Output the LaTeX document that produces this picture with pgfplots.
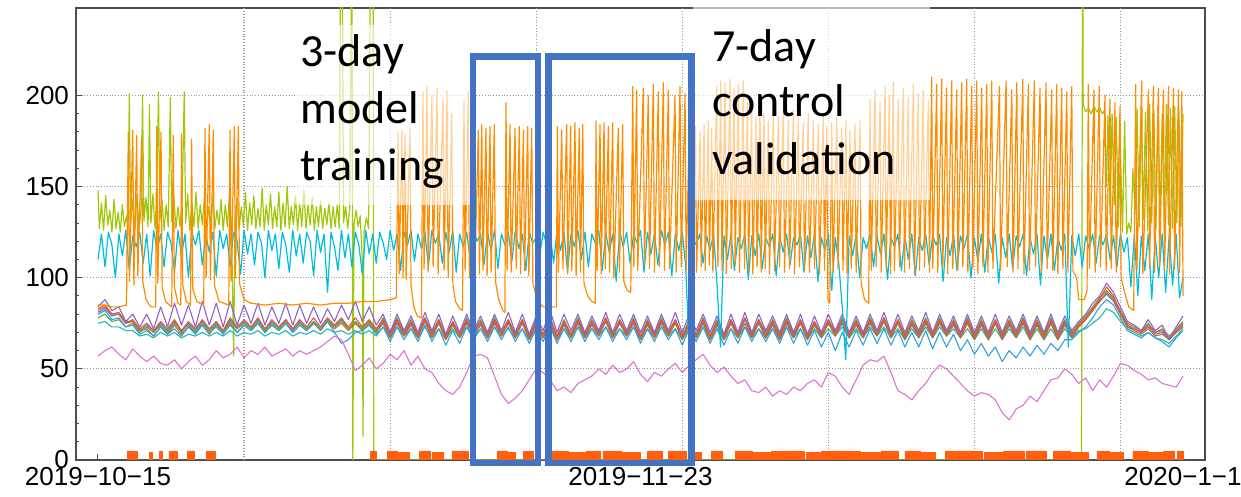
\documentclass[border=0pt]{standalone}
\usepackage{pgfplots}
\pgfplotsset{compat=1.18}
\usepackage{pgfplotstable}
\usepackage{fontspec}
\setmainfont{Liberation Sans}
\newfontfamily\calfont{Carlito}
\definecolor{cgreen}{RGB}{160,200,10}
\definecolor{ccyan}{RGB}{0,188,222}
\definecolor{corange}{RGB}{255,140,0}
\definecolor{cpink}{RGB}{224,112,214}
\definecolor{cpurple}{RGB}{144,96,208}
\definecolor{clblue}{RGB}{48,160,224}
\definecolor{cgreen2}{RGB}{96,170,48}
\definecolor{cred}{RGB}{232,80,58}
\definecolor{cbrown}{RGB}{200,106,32}
\definecolor{cteal}{RGB}{32,184,176}
\definecolor{cblue}{RGB}{90,128,208}
\definecolor{cbottom}{RGB}{255,96,16}
\definecolor{boxblue}{RGB}{68,114,196}

\pgfplotstableread{
x pu lb gr rd br tl bl pk
0 84 80 78 82 83 75 81 57
0.5 88 82 80 84 85 76 83 60
1 82 77 76 80 80 73 79 62
1.5 84 78 77 80 81 73 80 58
2 76 73 73 75 76 71 75 55
2.5 80 74 75 77 76 71 76 61
3 73 69 70 72 71 68 71 57
3.5 80 71 73 75 72 69 74 54
4 72 68 70 71 68 67 70 57
4.5 84 73 74 76 73 70 75 53
5 73 69 70 72 69 68 71 52
5.5 86 72 75 77 74 70 76 55
6 74 68 71 71 69 67 70 50
6.5 85 73 74 76 73 69 75 54
7 73 69 70 72 70 68 71 57
7.5 87 74 75 77 74 70 76 52
8 74 70 71 72 69 68 71 55
8.5 86 73 74 76 74 70 75 60
9 73 69 70 71 70 68 70 56
9.5 87 74 76 78 75 71 77 58
10 74 70 72 73 70 68 72 62
10.5 85 74 75 77 74 70 76 56
11 75 71 72 73 71 69 72 60
11.5 86 75 76 78 75 71 77 58
12 74 70 71 72 70 68 71 62
12.5 84 74 75 77 74 70 76 57
13 75 71 72 73 71 69 72 59
13.5 86 75 76 77 75 71 77 61
14 74 70 72 72 70 68 71 57
14.5 85 74 75 77 74 70 76 60
15 75 71 72 73 71 69 72 58
15.5 84 75 76 78 75 71 76 60
16 75 72 72 73 71 69 72 62
16.5 83 76 77 78 76 72 77 65
17 76 70 73 74 72 70 73 68
17.5 85 64 76 78 75 71 77 66
18 77 66 72 73 71 69 72 58
18.5 87 70 76 78 75 71 76 49
19 76 71 72 73 71 69 72 52
19.5 84 74 76 77 75 71 76 56
20 74 69 71 72 70 68 71 50
20.5 80 73 78 77 75 73 76 53
21 70 65 70 69 67 67 68 58
21.5 80 73 78 77 75 73 76 55
22 71 66 70 70 68 68 69 60
22.5 79 72 77 76 74 72 75 52
23 70 65 69 69 67 67 68 57
23.5 81 74 78 78 76 73 77 50
24 71 65 70 69 67 67 68 48
24.5 80 72 77 77 75 72 76 42
25 69 63 68 68 66 66 67 38
25.5 79 71 76 76 74 72 75 36
26 70 64 69 69 67 67 68 40
26.5 80 73 78 77 75 73 76 48
27 71 66 70 70 68 68 69 57
27.5 79 72 77 76 74 72 75 58
28 70 65 69 69 67 67 68 56
28.5 80 73 78 77 75 73 76 46
29 71 66 70 70 68 68 69 36
29.5 81 73 77 77 75 72 76 31
30 70 65 69 69 67 67 68 34
30.5 80 72 77 77 75 72 76 38
31 69 64 68 68 66 66 67 44
31.5 79 72 77 76 74 72 75 50
32 71 65 69 69 67 67 68 48
32.5 82 73 78 78 75 73 77 44
33 70 64 68 68 66 66 67 38
33.5 80 72 77 76 74 72 75 40
34 71 65 69 69 67 67 68 37
34.5 80 73 78 77 75 73 76 42
35 70 65 69 69 67 67 68 44
35.5 79 72 77 76 74 72 75 46
36 71 66 70 70 68 68 69 50
36.5 81 73 78 78 76 73 77 47
37 70 65 69 69 67 67 68 52
37.5 80 72 77 77 75 72 76 48
38 71 66 70 70 68 68 69 50
38.5 80 73 78 77 75 73 76 54
39 70 64 68 68 66 66 67 47
39.5 79 72 77 76 74 72 75 43
40 70 65 69 69 67 67 68 48
40.5 80 73 78 77 75 73 76 46
41 71 66 70 70 68 68 69 50
41.5 81 72 77 77 75 72 76 53
42 70 63 68 68 66 66 67 48
42.5 80 72 77 76 74 72 75 52
43 71 65 69 69 67 67 68 55
43.5 80 73 78 77 75 73 76 58
44 70 64 68 68 66 66 67 52
44.5 79 72 77 76 74 72 75 48
45 69 63 68 68 66 66 67 51
45.5 80 72 77 77 75 72 76 46
46 70 64 69 69 67 67 68 42
46.5 81 73 78 78 75 73 77 44
47 70 65 69 69 67 67 68 38
47.5 80 72 77 77 75 72 76 37
48 71 65 70 69 67 67 68 40
48.5 79 72 77 76 74 72 75 35
49 70 64 69 68 66 66 67 38
49.5 80 73 78 77 75 73 76 36
50 70 64 69 69 67 67 68 40
50.5 80 72 77 77 75 72 76 38
51 69 63 68 68 66 66 67 42
51.5 79 71 76 76 74 72 75 44
52 70 62 69 69 67 67 68 40
52.5 80 70 77 77 75 72 76 48
53 71 60 70 70 68 68 69 46
53.5 80 70 78 77 75 73 76 40
54 70 62 69 69 67 67 68 36
54.5 79 71 77 76 74 72 75 44
55 70 63 69 69 67 67 68 52
55.5 80 72 78 77 75 73 76 55
56 71 64 70 70 68 68 69 54
56.5 81 72 78 78 76 73 77 57
57 70 63 69 69 67 67 68 48
57.5 80 71 77 77 75 72 76 38
58 70 62 69 68 66 66 67 36
58.5 79 70 77 76 74 72 75 33
59 71 62 70 69 67 67 68 38
59.5 81 71 78 77 75 73 76 42
60 70 61 69 69 67 67 68 48
60.5 80 70 78 77 75 73 76 52
61 71 62 70 70 68 68 69 50
61.5 79 69 77 76 74 72 75 46
62 70 60 69 69 67 67 68 42
62.5 80 66 78 77 75 72 76 38
63 70 58 69 68 66 66 67 35
63.5 79 64 77 76 74 72 75 37
64 70 57 69 68 66 66 67 36
64.5 80 62 77 77 75 72 76 33
65 70 54 69 68 66 66 67 26
65.5 79 60 77 76 74 72 75 22
66 71 56 70 69 67 67 68 28
66.5 80 62 78 77 75 73 76 30
67 70 57 69 68 66 66 67 35
67.5 79 63 77 76 74 72 75 32
68 70 58 69 68 66 66 67 38
68.5 80 64 78 77 75 72 76 44
69 70 60 69 68 66 66 67 45
69.5 79 66 77 76 74 72 75 50
70 71 66 70 69 67 67 68 47
70.5 76 70 75 74 73 71 73 42
71 80 73 79 78 77 72 77 45
71.5 86 78 84 83 82 75 82 38
72 90 84 89 88 87 78 87 44
72.5 97 88 93 95 92 83 91 40
73 92 85 89 90 88 81 87 46
73.5 84 78 82 81 80 76 80 53
74 76 71 75 74 73 72 73 52
74.5 74 69 73 72 71 70 72 49
75 71 67 71 70 69 68 70 47
75.5 77 70 75 74 72 70 73 44
76 71 67 70 70 68 67 69 45
76.5 74 65 72 71 69 66 70 42
77 66 62 68 67 66 64 66 41
77.5 73 67 72 71 70 68 70 40
78 79 71 76 75 73 72 74 46
}\temps

\begin{document}
\begin{tikzpicture}[x=1pt,y=1pt]
\begin{axis}[
  at={(49pt,18.5pt)}, anchor=origin,
  scale only axis, width=564.5pt, height=226pt,
  xmin=-1.58, xmax=79.58, ymin=0, ymax=248,
  axis line style={black!70, line width=0.6pt},
  tick align=inside, tick pos=left,
  xtick={0,39,78},
  xticklabels={2019−10−15,2019−11−23,2020−1−1},
  ytick={0,50,100,150,200}, minor y tick num=4,
  major tick length=3pt, minor tick length=1.6pt,
  tick style={black!70, line width=0.5pt},
  ymajorgrids, grid style={densely dotted, black!40, line width=0.6pt},
  extra x ticks={10.5,21,31.5,42,52.5,63,73.5},
  extra x tick labels={},
  extra x tick style={grid=major, major tick length=0pt},
  ticklabel style={font=\fontsize{13}{15}\selectfont},
  /pgf/number format/assume math mode=true,
  every axis plot/.append style={line join=round, line width=0.55pt},
]
% green series
\addplot[cgreen, line width=0.6pt] coordinates {
(0,148)(0.1,127)(0.25,141)(0.4,126)(0.55,145)(0.7,129)(0.85,137)(1.0,125)(1.15,143)(1.3,127)(1.45,136)(1.6,125)(1.75,140)(1.9,128)(2.05,134)(2.15,127)(2.25,201)(2.35,130)(2.5,143)(2.65,127)(2.8,146)(2.95,126)(3.1,138)(3.2,200)(3.3,131)(3.45,144)(3.6,128)(3.7,195)(3.8,130)(3.95,146)(4.1,127)(4.2,140)(4.35,202)(4.45,131)(4.6,143)(4.75,126)(4.9,140)(5.05,128)(5.2,199)(5.3,131)(5.45,145)(5.6,127)(5.75,139)(5.9,128)(6.05,142)(6.2,202)(6.3,130)(6.45,146)(6.6,126)(6.75,141)(6.9,128)(7.05,147)(7.2,127)(7.35,140)(7.5,129)(7.65,144)(7.8,126)(7.95,139)(8.1,128)(8.25,145)(8.4,127)(8.55,137)(8.7,129)(8.85,143)(9.0,126)(9.15,140)(9.3,128)(9.45,146)(9.6,127)(9.75,57)(9.85,130)(10.0,144)(10.15,127)(10.3,139)(10.45,128)(10.6,147)(10.75,126)(10.9,141)(11.05,129)(11.2,145)(11.35,127)(11.5,138)(11.65,128)(11.8,149)(11.95,126)(12.1,140)(12.25,129)(12.4,146)(12.55,127)(12.7,139)(12.85,128)(13.0,147)(13.15,126)(13.3,141)(13.45,128)(13.6,150)(13.75,127)(13.9,139)(14.05,129)(14.2,145)(14.35,126)(14.5,141)(14.65,128)(14.8,148)(14.95,127)(15.1,140)(15.25,129)(15.4,144)(15.55,126)(15.7,139)(15.85,128)(16.0,142)(16.15,127)(16.3,138)(16.45,129)(16.6,141)(16.75,127)(16.9,139)(17.05,128)(17.2,140)(17.35,127)(17.45,300)(17.55,300)(17.65,130)(17.8,139)(17.95,127)(18.1,138)(18.25,300)(18.32,0)(18.4,129)(18.55,137)(18.7,128)(18.85,134)(19.0,110)(19.05,13)(19.12,125)(19.3,133)(19.45,127)(19.6,300)(19.78,300)(19.82,0)(70.7,0)(70.78,300)(70.82,195)(71.0,191)(71.2,193)(71.4,190)(71.6,194)(71.8,191)(72.0,193)(72.2,190)(72.35,192)(72.5,150)(72.6,189)(72.75,135)(72.9,190)(73.05,140)(73.2,188)(73.35,128)(73.5,170)(73.65,125)(73.8,186)(73.95,124)(74.1,130)(74.25,125)(74.4,160)(74.55,135)(74.7,192)(74.85,128)(75.0,194)(75.15,132)(75.3,191)(75.45,126)(75.6,195)(75.75,130)(75.9,192)(76.05,127)(76.2,194)(76.35,131)(76.5,190)(76.65,126)(76.8,195)(76.95,129)(77.1,193)(77.25,127)(77.4,194)(77.55,130)(77.7,192)(77.85,128)(78.0,190)};
% temperature lines
\addplot[cteal] table[x=x,y=tl]{\temps};
\addplot[cblue] table[x=x,y=bl]{\temps};
\addplot[cbrown] table[x=x,y=br]{\temps};
\addplot[cgreen2] table[x=x,y=gr]{\temps};
\addplot[cred] table[x=x,y=rd]{\temps};
\addplot[clblue] table[x=x,y=lb]{\temps};
\addplot[cpurple] table[x=x,y=pu]{\temps};
\addplot[cpink] table[x=x,y=pk]{\temps};
% cyan
\addplot[ccyan, line width=0.6pt] coordinates {
(0,110)(0.25,124)(0.5,106)(0.75,125)(1,118)(1.25,100)(1.5,124)(1.75,112)(2,126)(2.25,104)(2.5,123)(2.75,117)(3,125)(3.25,108)(3.5,124)(3.75,101)(4,126)(4.25,115)(4.5,124)(4.75,106)(5,125)(5.25,119)(5.5,103)(5.75,126)(6,112)(6.25,124)(6.5,100)(6.75,125)(7,118)(7.25,126)(7.5,107)(7.75,124)(8,114)(8.25,125)(8.5,101)(8.75,126)(9,116)(9.25,124)(9.5,106)(9.75,125)(10,120)(10.25,102)(10.5,126)(10.75,113)(11,124)(11.25,107)(11.5,125)(11.75,119)(12,100)(12.25,126)(12.5,115)(12.75,124)(13,105)(13.25,125)(13.5,118)(13.75,103)(14,126)(14.25,112)(14.5,124)(14.75,108)(15,125)(15.25,120)(15.5,101)(15.75,126)(16,114)(16.25,124)(16.5,92)(16.75,125)(17,117)(17.25,104)(17.5,126)(17.75,111)(18,124)(18.25,106)(18.5,125)(18.75,118)(19,102)(19.25,126)(19.5,113)(19.75,124)
(20,108)(20.25,125)(20.5,119)(20.75,110)(21,126)(21.25,115)(21.5,124)(21.75,104)(22,125)(22.25,118)(22.5,126)(22.75,109)(23,124)(23.25,116)(23.5,125)(23.75,106)(24,126)(24.25,119)(24.5,124)(24.75,108)(25,125)(25.25,114)(25.5,126)(25.75,103)(26,124)(26.25,117)(26.5,125)(26.75,110)(27,126)(27.25,120)(27.5,124)(27.75,107)(28,125)(28.25,115)(28.5,126)(28.75,105)(29,124)(29.25,118)(29.5,125)(29.75,109)(30,126)(30.25,116)(30.5,124)(30.75,104)(31,125)(31.25,119)(31.5,122)(31.75,112)(32,125)(32.25,118)(32.5,124)(32.75,108)(33,126)(33.25,115)(33.5,125)(33.75,103)(34,124)(34.25,117)(34.5,126)(34.75,110)(35,125)(35.25,106)(35.5,124)(35.75,119)(36,126)(36.25,104)(36.5,125)(36.75,114)(37,124)(37.25,98)(37.5,126)(37.75,117)(38,125)(38.25,108)(38.5,124)(38.75,119)(39,126)(39.25,103)(39.5,125)(39.75,113)(40,124)(40.25,107)(40.5,126)(40.75,118)(41,125)(41.25,101)(41.5,124)(41.75,115)(42,125)(42.25,106)(42.5,60)(42.75,122)
(43,118)(43.25,124)(43.5,108)(43.75,123)(44,115)(44.25,124)(44.5,96)(44.75,62)(45,123)(45.25,110)(45.5,124)(45.75,104)(46,122)(46.25,116)(46.5,124)(46.75,99)(47,123)(47.25,112)(47.5,124)(47.75,105)(48,122)(48.25,117)(48.5,124)(48.75,101)(49,123)(49.25,114)(49.5,124)(49.75,107)(50,122)(50.25,118)(50.5,124)(50.75,103)(51,123)(51.25,111)(51.5,124)(51.75,98)(52,122)(52.25,115)(52.5,124)(52.75,93)(53,122)(53.25,108)(53.5,84)(53.75,55)(54,123)(54.25,112)(54.5,124)(54.75,100)(55,122)(55.25,116)(55.5,124)(55.75,106)(56,123)(56.25,113)(56.5,124)(56.75,99)(57,122)(57.25,117)(57.5,124)(57.75,104)(58,123)(58.25,110)(58.5,124)(58.75,101)(59,122)(59.25,115)(59.5,124)(59.75,107)(60,123)(60.25,118)(60.5,124)(60.75,98)(61,122)(61.25,112)(61.5,124)(61.75,104)(62,123)(62.25,116)(62.5,124)(62.75,100)(63,122)(63.25,109)(63.5,124)(63.75,103)(64,123)(64.25,114)(64.5,124)(64.75,97)(65,122)(65.25,111)(65.5,124)(65.75,105)(66,123)(66.25,117)(66.5,124)(66.75,101)(67,122)(67.25,113)(67.5,124)(67.75,96)(68,123)(68.25,110)(68.5,124)(68.75,104)(69,122)(69.25,115)(69.5,124)(69.75,62)(70,123)
(70.25,112)(70.5,124)(70.75,106)(71,123)(71.25,116)(71.5,124)(71.75,108)(72,123)(72.25,118)(72.5,124)(72.75,110)(73,123)(73.25,106)(73.5,124)(73.75,114)(74,122)(74.25,95)(74.5,124)(74.75,90)(75,123)(75.25,104)(75.5,124)(75.75,88)(76,123)(76.25,100)(76.5,124)(76.75,92)(77,123)(77.25,96)(77.5,124)(77.75,89)(78,100)};
% orange spiky series
\addplot[corange, line width=0.6pt] coordinates {
(0,85)(0.5,85)(1.0,84)(1.5,84)(2.05,85)
(2.18,180)(2.26,98)(2.50,181)(2.58,96)(2.78,178)(2.86,101)(3.14,177)(3.22,98)(3.45,88)(3.8,84)(4.15,84)
(4.22,183)(4.30,97)(4.53,180)(4.61,95)(4.85,87)(5.3,84)
(5.41,178)(5.49,95)(5.75,86)(5.95,85)
(6.01,179)(6.09,96)(6.35,87)(6.65,85)
(6.73,176)(6.81,94)(7.1,87)(7.6,85)
(7.69,182)(7.77,100)(8.00,184)(8.08,99)(8.29,181)(8.37,96)(8.7,87)(9.4,85)
(9.49,181)(9.57,98)(9.80,183)(9.88,100)(10.09,183)(10.17,97)(10.5,88)(11.0,86)
(12,85)(13,86)(14,85)(15,86)(16,85)(17,86)(18,86)(19,87)(20,87)(21,88)(21.45,89)
(21.57,180)(21.65,102)(21.85,181)(21.93,100)(22.07,179)(22.15,99)(22.43,182)(22.5,96)(22.7,84)(22.95,79)(23.25,78)
(23.36,202)(23.44,105)(23.65,205)(23.73,103)(24.01,200)(24.09,106)(24.37,204)(24.45,102)(24.80,198)(24.88,104)(25.09,203)(25.17,100)(25.43,190)(25.51,96)(25.7,87)(26.0,83)(26.2,82)
(26.31,197)(26.39,104)(26.62,202)(26.70,100)(27.0,183)(27.08,101)
(27.34,181)(27.42,102)(27.59,184)(27.67,104)(27.89,182)(27.97,101)(28.18,183)(28.26,103)(28.49,184)(28.57,98)(28.8,88)(29.1,82)(29.25,81)
(29.33,196)(29.41,104)(29.62,184)(29.70,103)(29.98,182)(30.06,105)(30.29,183)(30.37,102)(30.58,181)(30.66,104)(30.89,183)(30.97,101)(31.18,182)(31.26,97)(31.6,87)(32.0,84)(32.5,84)(32.95,84)
(33.02,183)(33.10,103)(33.34,181)(33.42,105)(33.69,184)(33.77,102)(33.98,183)(34.06,104)(34.29,185)(34.37,101)(34.60,182)(34.68,103)(34.85,184)(34.93,97)(35.2,90)(35.5,87)(35.75,86)
(35.80,186)(35.88,104)(36.09,184)(36.17,102)(36.38,185)(36.46,105)(36.69,183)(36.77,103)(37.00,185)(37.08,100)(37.40,182)(37.48,103)(37.72,184)(37.80,98)(38.05,93)(38.3,92)
(38.44,205)(38.52,106)(38.72,203)(38.80,104)(39.20,204)(39.28,107)(39.56,200)(39.64,105)(39.92,206)(40.00,103)(40.28,202)(40.36,106)(40.64,207)(40.72,104)(41.00,203)(41.08,105)(41.48,200)(41.56,103)(41.84,205)(41.92,106)(42.20,201)(42.28,104)(42.55,200)(42.63,101)(42.95,183)(43.03,103)
(43.28,180)(43.36,106)(43.57,184)(43.65,104)(43.87,186)(43.95,107)(44.12,182)(44.20,103)(44.48,205)(44.56,106)(44.77,208)(44.85,104)(45.08,207)(45.16,102)(45.44,209)(45.52,105)(45.72,204)(45.80,107)(46.03,206)(46.11,103)(46.39,208)(46.47,105)(46.68,196)(46.76,104)(46.99,192)(47.07,102)(47.30,188)(47.38,106)(47.59,195)(47.67,103)(47.88,190)(47.96,105)(48.19,186)(48.27,102)(48.55,193)(48.63,104)(48.91,189)(48.99,106)(49.27,195)(49.35,103)(49.63,187)(49.71,105)(49.99,192)(50.07,102)(50.34,188)(50.42,106)(50.70,185)(50.78,104)(51.06,190)(51.14,103)(51.42,186)(51.50,105)(51.78,184)(51.86,102)(52.14,189)(52.22,104)(52.39,183)(52.47,88)(52.6,86)(52.75,185)(52.83,103)(53.11,188)(53.19,105)(53.47,182)(53.55,104)(53.77,186)(53.85,102)(54.06,181)(54.14,105)(54.42,184)(54.50,103)(54.78,186)(54.86,97)(55.1,88)(55.4,86)
(55.50,198)(55.58,104)(55.86,203)(55.94,106)(56.22,196)(56.30,103)(56.58,205)(56.66,105)(56.89,200)(56.97,102)(57.17,207)(57.25,104)(57.53,198)(57.61,106)(57.89,204)(57.97,103)(58.25,199)(58.33,105)(58.61,206)(58.69,102)(58.97,201)(59.05,104)(59.33,203)(59.41,106)(59.69,197)(59.77,103)
(59.93,210)(60.01,105)(60.29,206)(60.37,103)(60.65,209)(60.73,106)(61.00,204)(61.08,102)(61.37,208)(61.45,105)(61.73,203)(61.81,104)(62.09,207)(62.17,106)(62.45,209)(62.53,103)(62.81,205)(62.89,105)(63.17,208)(63.25,102)(63.53,204)(63.61,106)(63.89,206)(63.97,103)(64.25,208)(64.33,105)
(64.80,205)(64.88,104)(65.28,208)(65.36,106)(65.69,203)(65.77,103)(66.05,207)(66.13,105)(66.48,209)(66.56,102)(66.88,206)(66.96,104)(67.31,208)(67.39,106)(67.72,204)(67.80,103)(68.15,207)(68.23,105)(68.56,203)(68.64,104)(68.92,206)(69.00,102)(69.28,204)(69.36,105)(69.64,202)(69.72,103)(70.00,205)(70.08,104)(70.35,100)(70.5,88)(70.9,88)(71.1,93)
(71.19,206)(71.27,105)(71.60,203)(71.68,103)(71.98,205)(72.06,106)(72.39,200)(72.47,104)(72.75,198)(72.83,105)(73.11,196)(73.19,103)(73.47,194)(73.55,100)(73.8,92)(74.1,84)(74.45,82)
(74.60,206)(74.68,104)(75.03,208)(75.11,102)(75.51,203)(75.59,105)(75.87,205)(75.95,103)(76.23,204)(76.31,106)(76.59,203)(76.67,104)(76.95,205)(77.03,102)(77.31,204)(77.39,105)(77.67,203)(77.75,103)(77.91,202)(78.0,90)};
% bottom on/off series
\addplot[cbottom, fill=cbottom, line width=0.3pt] coordinates {
(2.1,0)(2.1,5)(2.8,5)(2.8,0)(3.7,0)(3.7,4)(3.9,4)(3.9,0)(4.4,0)(4.4,5)(4.6,5)(4.6,0)(5.1,0)(5.1,5)(5.7,5)(5.7,0)(6.4,0)(6.4,5)(6.9,5)(6.9,0)(7.8,0)(7.8,5)(8.4,5)(8.4,0)
(19.6,0)(19.6,5)(20.0,5)(20.0,0)(20.8,0)(20.8,5)(21.5,5)(21.5,0)(21.6,0)(21.6,4)(22.4,4)(22.4,0)(23.1,0)(23.1,5)(23.9,5)(23.9,0)(24.0,0)(24.0,4)(24.8,4)(24.8,0)(25.5,0)(25.5,5)(26.6,5)(26.6,0)
(28.7,0)(28.7,5)(29.4,5)(29.4,0)(29.5,0)(29.5,4)(30.0,4)(30.0,0)(30.6,0)(30.6,5)(31.3,5)(31.3,0)(32.6,0)(32.6,5)(33.8,5)(33.8,0)(33.9,0)(33.9,4)(35.0,4)(35.0,0)(35.1,0)(35.1,5)(36.1,5)(36.1,0)
(36.3,0)(36.3,5)(37.6,5)(37.6,0)(37.7,0)(37.7,4)(39.0,4)(39.0,0)(39.5,0)(39.5,5)(40.6,5)(40.6,0)(41.0,0)(41.0,5)(42.3,5)(42.3,0)(42.8,0)(42.8,4)(43.4,4)(43.4,0)(44.1,0)(44.1,5)(44.9,5)(44.9,0)
(45.8,0)(45.8,5)(47.0,5)(47.0,0)(47.1,0)(47.1,4)(48.3,4)(48.3,0)(48.4,0)(48.4,5)(49.6,5)(49.6,0)(49.7,0)(49.7,5)(50.8,5)(50.8,0)(50.9,0)(50.9,4)(51.9,4)(51.9,0)(52.0,0)(52.0,5)(53.4,5)(53.4,0)
(53.5,0)(53.5,5)(54.8,5)(54.8,0)(54.9,0)(54.9,4)(56.2,4)(56.2,0)(56.3,0)(56.3,5)(57.5,5)(57.5,0)(58.0,0)(58.0,5)(59.1,5)(59.1,0)(59.2,0)(59.2,4)(60.2,4)(60.2,0)(60.9,0)(60.9,5)(62.2,5)(62.2,0)
(62.3,0)(62.3,5)(63.6,5)(63.6,0)(63.7,0)(63.7,4)(65.0,4)(65.0,0)(65.1,0)(65.1,5)(66.6,5)(66.6,0)(66.7,0)(66.7,5)(68.2,5)(68.2,0)(68.7,0)(68.7,5)(69.9,5)(69.9,0)(70.0,0)(70.0,4)(71.2,4)(71.2,0)
(71.8,0)(71.8,5)(72.7,5)(72.7,0)(72.8,0)(72.8,4)(73.7,4)(73.7,0)(74.4,0)(74.4,5)(75.5,5)(75.5,0)(75.6,0)(75.6,4)(76.5,4)(76.5,0)(76.6,0)(76.6,5)(77.4,5)(77.4,0)(77.6,0)(77.6,5)(78.0,5)(78.0,0)};
\end{axis}
% semi-transparent white text boxes
\fill[white, fill opacity=0.6] (147.5,146) rectangle (235,236);
\fill[white, fill opacity=0.6] (346.5,148.5) rectangle (465,248.5);
% annotations
\begin{scope}[every node/.style={anchor=base west, inner sep=0pt, font=\calfont\fontsize{23}{28}\selectfont}]
\node at (150,215) {3-day};
\node at (150,186.5) {model};
\node at (150,158) {training};
\node at (356,217.5) {7-day};
\node at (356,190) {control};
\node at (356,161) {validation};
\end{scope}
\draw[boxblue, line width=3.25pt] (236.5,17) rectangle (269,220.2);
\draw[boxblue, line width=3.25pt] (274.25,17) rectangle (345.75,220.2);
\pgfresetboundingbox
\path (0,0) rectangle (620.5,248.5);
\end{tikzpicture}
\end{document}
